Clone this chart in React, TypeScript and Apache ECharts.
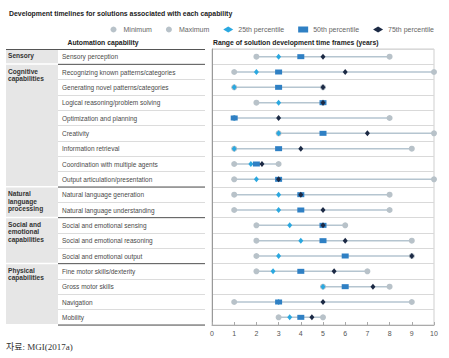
import React, { useEffect, useRef } from "react";
import * as echarts from "echarts";

const categories = [
  "Sensory perception",
  "Recognizing known patterns/categories",
  "Generating novel patterns/categories",
  "Logical reasoning/problem solving",
  "Optimization and planning",
  "Creativity",
  "Information retrieval",
  "Coordination with multiple agents",
  "Output articulation/presentation",
  "Natural language generation",
  "Natural language understanding",
  "Social and emotional sensing",
  "Social and emotional reasoning",
  "Social and emotional output",
  "Fine motor skills/dexterity",
  "Gross motor skills",
  "Navigation",
  "Mobility",
];
const minVals = [2, 1, 1, 2, 1, 3, 1, 1, 1, 1, 1, 2, 2, 2, 2, 5, 1, 3];
const p25Vals = [3, 2, 1, 3, 1, 3, 1, 1.75, 2, 3, 3, 3.5, 4, 3, 2.75, 5, 3, 3.5];
const p50Vals = [4, 3, 3, 5, 1, 5, 3, 2, 3, 4, 4, 5, 5, 6, 4, 6, 3, 4];
const p75Vals = [5, 6, 5, 5, 3, 7, 4, 2.25, 3, 4, 5, 5, 6, 9, 5.5, 7.25, 5, 4.5];
const maxVals = [8, 10, 5, 5, 8, 10, 9, 3, 10, 8, 8, 6, 9, 9, 7, 8, 9, 5];

const groupNames = [
  "Sensory",
  "Cognitive\ncapabilities",
  "Natural\nlanguage\nprocessing",
  "Social and\nemotional\ncapabilities",
  "Physical\ncapabilities",
];
const groupStart = [0, 1, 9, 11, 14];
const groupEnd = [0, 8, 10, 13, 17];

const xTicks = [0, 1, 2, 3, 4, 5, 6, 7, 8, 9, 10];

const FONT = "'Liberation Sans', Arial, sans-serif";

export default function App() {
  const ref = useRef<HTMLDivElement>(null);
  useEffect(() => {
    document.body.style.margin = "0";
    const chart = echarts.init(ref.current!, undefined, { renderer: "svg" });
    const ser = (name: string, vals: number[], symbol: string, size: any, color: string, z: number) => ({
      name,
      type: "scatter",
      xAxisIndex: 0,
      yAxisIndex: 0,
      symbol,
      symbolSize: size,
      itemStyle: { color, opacity: 1 },
      z,
      data: vals.map((v, i) => [v, categories[i]]),
    });
    chart.setOption({
      animation: false,
      textStyle: { fontFamily: FONT },
      title: {
        text: "Development timelines for solutions associated with each capability",
        left: 4,
        top: 5,
        textStyle: { fontSize: 6.9, fontWeight: "bold", color: "#222", fontFamily: FONT },
      },
      legend: {
        right: 10,
        top: 21,
        itemWidth: 10,
        itemHeight: 6,
        itemGap: 14,
        textStyle: { fontSize: 7, color: "#666", fontFamily: FONT },
        data: [
          { name: "Minimum", icon: "circle" },
          { name: "Maximum", icon: "circle" },
          { name: "25th percentile", icon: "diamond" },
          { name: "50th percentile", icon: "rect" },
          { name: "75th percentile", icon: "diamond" },
        ],
      },
      grid: [
        { left: 212, top: 49, width: 222, height: 276, show: true, borderColor: "#cfcfcf", borderWidth: 1 },
        { left: 58, top: 49, width: 147, height: 276 },
      ],
      xAxis: [
        {
          gridIndex: 0,
          type: "value",
          min: 0,
          max: 10,
          interval: 1,
          axisLine: { show: true, lineStyle: { color: "#aaa" } },
          axisTick: { show: true, inside: true, length: 3, lineStyle: { color: "#aaa" } },
          axisLabel: { fontSize: 7, color: "#555", margin: 5, formatter: (v: number) => (xTicks.includes(v) ? String(v) : "") },
          splitLine: { show: false },
        },
        { gridIndex: 1, type: "value", min: 0, max: 1, show: false },
      ],
      yAxis: [
        {
          gridIndex: 0,
          type: "category",
          data: categories,
          inverse: true,
          axisLine: { show: true, lineStyle: { color: "#999" } },
          axisTick: { show: false },
          axisLabel: { show: true, align: "left", margin: 150, fontSize: 6.5, color: "#4a4a4a", fontFamily: FONT },
          splitLine: { show: true, interval: 0, lineStyle: { color: "#d9d9d9", width: 1 } },
        },
        {
          gridIndex: 1,
          type: "category",
          data: categories,
          inverse: true,
          axisLine: { show: false },
          axisTick: { show: false },
          axisLabel: { show: false },
          splitLine: { show: true, interval: 0, lineStyle: { color: "#dcdcdc", width: 1 } },
        },
      ],
      graphic: [
        { type: "line", shape: { x1: 6, y1: 49.5, x2: 205, y2: 49.5 }, style: { stroke: "#555", lineWidth: 1 }, z: 20 },
        {
          type: "text",
          x: 103,
          y: 42,
          style: { text: "Automation capability", fontSize: 6.8, fontWeight: "bold", fill: "#222", align: "center", verticalAlign: "middle", fontFamily: FONT },
        },
        {
          type: "text",
          x: 213,
          y: 42,
          style: { text: "Range of solution development time frames (years)", fontSize: 6.8, fontWeight: "bold", fill: "#222", align: "left", verticalAlign: "middle", fontFamily: FONT },
        },
        {
          type: "text",
          x: 6,
          y: 347,
          style: { text: "자료: MGI(2017a)", fontSize: 9, fill: "#333", verticalAlign: "middle", fontFamily: "'Liberation Serif', 'Noto Sans CJK KR', serif" },
        },
      ],
      series: [
        {
          type: "custom",
          xAxisIndex: 1,
          yAxisIndex: 1,
          silent: true,
          clip: false,
          z: 1,
          data: groupNames.map((g, i) => [groupStart[i], groupEnd[i], i]),
          renderItem: (params: any, api: any) => {
            const s = api.value(0);
            const e = api.value(1);
            const gi = api.value(2);
            const h = api.size([0, 1])[1];
            const top = api.coord([0, s])[1] - h / 2;
            const bottom = api.coord([0, e])[1] + h / 2;
            return {
              type: "group",
              children: [
                { type: "rect", shape: { x: 6, y: top + 0.5, width: 52, height: bottom - top - 1.5 }, style: { fill: "#e6e6e6" } },
                { type: "line", shape: { x1: 58, y1: bottom, x2: 205, y2: bottom }, style: { stroke: "#555", lineWidth: 1 }, z2: 10 },
                {
                  type: "text",
                  x: 8,
                  y: top + 3,
                  style: { text: groupNames[gi], fontSize: 6.6, fontWeight: "bold", fill: "#333", lineHeight: 7.5, verticalAlign: "top", fontFamily: FONT },
                },
              ],
            };
          },
        },
        {
          type: "custom",
          xAxisIndex: 0,
          yAxisIndex: 0,
          silent: true,
          z: 3,
          encode: { x: [0, 1], y: 2 },
          data: categories.map((c, i) => [minVals[i], maxVals[i], i]),
          renderItem: (params: any, api: any) => {
            const p1 = api.coord([api.value(0), api.value(2)]);
            const p2 = api.coord([api.value(1), api.value(2)]);
            return {
              type: "line",
              shape: { x1: p1[0], y1: p1[1], x2: p2[0], y2: p2[1] },
              style: { stroke: "#b5c5d0", lineWidth: 1.5 },
            };
          },
        },
        ser("Minimum", minVals, "circle", 6, "#b8c2c9", 4),
        ser("Maximum", maxVals, "circle", 6, "#b8c2c9", 4),
        ser("25th percentile", p25Vals, "diamond", [5, 6], "#2aa8e0", 5),
        ser("50th percentile", p50Vals, "rect", [7, 5], "#2f80c4", 6),
        ser("75th percentile", p75Vals, "diamond", [5, 6], "#1c2a45", 7),
      ],
    });
    return () => chart.dispose();
  }, []);
  return <div ref={ref} style={{ width: 449, height: 358 }} />;
}
